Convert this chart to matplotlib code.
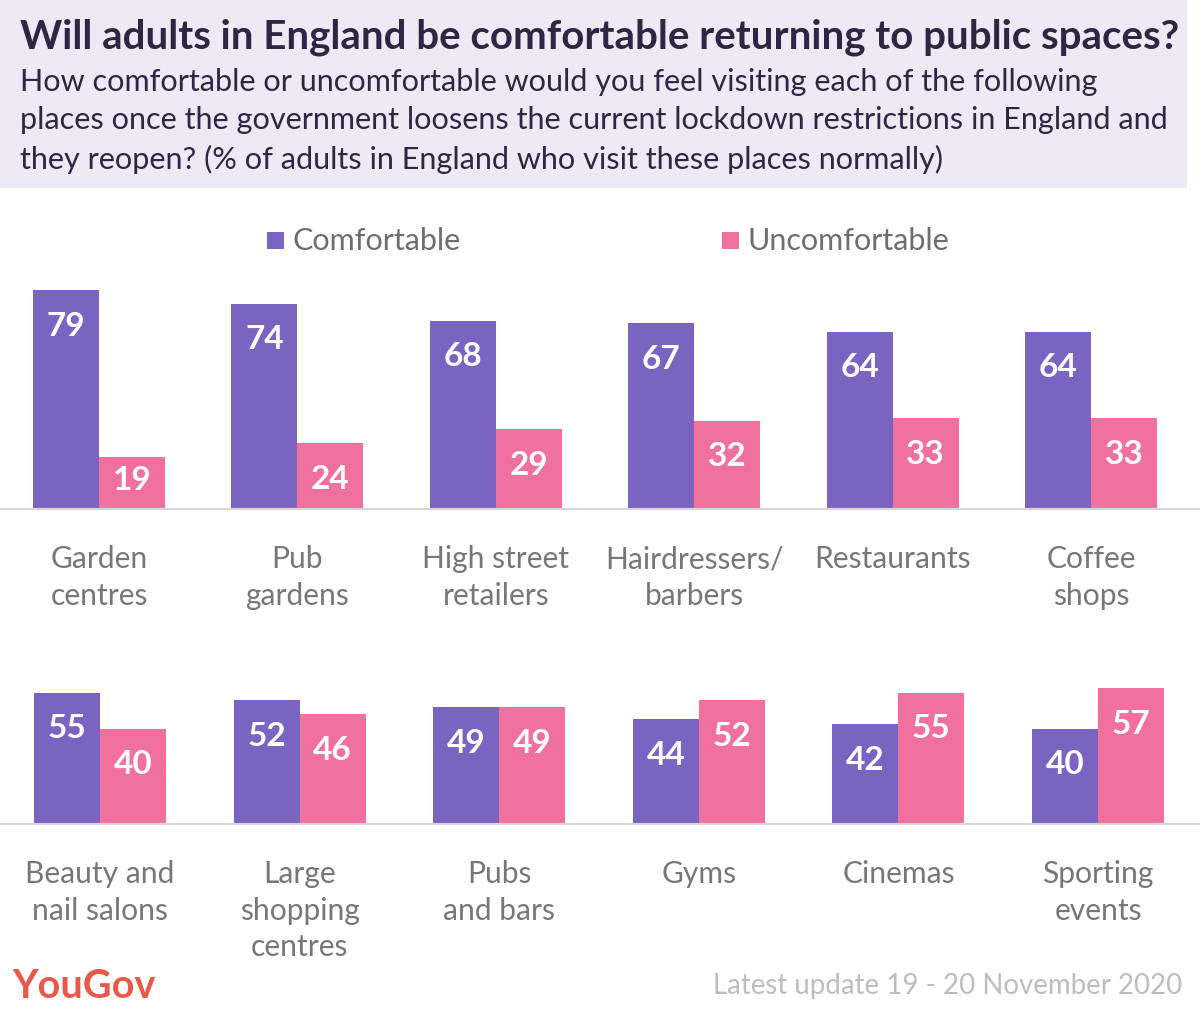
import matplotlib.pyplot as plt
from matplotlib.patches import Rectangle
import numpy as np

# data
top_places = ['Garden\ncentres', 'Pub\ngardens', 'High street\nretailers',
              'Hairdressers/\nbarbers', 'Restaurants', 'Coffee\nshops']
top_comfortable = [79, 74, 68, 67, 64, 64]
top_uncomfortable = [19, 24, 29, 32, 33, 33]

bottom_places = ['Beauty and\nnail salons', 'Large\nshopping\ncentres', 'Pubs\nand bars',
                 'Gyms', 'Cinemas', 'Sporting\nevents']
bottom_comfortable = [55, 52, 49, 44, 42, 40]
bottom_uncomfortable = [40, 46, 49, 52, 55, 57]

PURPLE = '#7B63C1'
PINK = '#F0719E'
FONT = 'Lato'

W, H = 1200, 1011
fig = plt.figure(figsize=(W / 100, H / 100), dpi=100)
fig.patch.set_facecolor('white')


def fx(px):
    return px / W


def fy(py):
    return 1 - py / H


# header box
fig.patches.append(Rectangle((0, fy(188)), fx(1187), 188 / H, transform=fig.transFigure,
                             facecolor='#EDEAF5', edgecolor='none', zorder=0))
fig.text(fx(20), fy(37), 'Will adults in England be comfortable returning to public spaces?',
         fontsize=29, fontweight='bold', color='#2D2744', family=FONT, va='center', ha='left')
subtitle = ('How comfortable or uncomfortable would you feel visiting each of the following\n'
            'places once the government loosens the current lockdown restrictions in England and\n'
            'they reopen? (% of adults in England who visit these places normally)')
fig.text(fx(20), fy(121), subtitle, fontsize=22.1, color='#2D2744', family=FONT,
         va='center', ha='left', linespacing=1.43)

# legend
fig.patches.append(Rectangle((fx(267), fy(249)), fx(17), 17 / H, transform=fig.transFigure,
                             facecolor=PURPLE, edgecolor='none'))
fig.text(fx(293), fy(241), 'Comfortable', fontsize=22, color='#6E6E6E', family=FONT,
         va='center', ha='left')
fig.patches.append(Rectangle((fx(722), fy(249)), fx(17), 17 / H, transform=fig.transFigure,
                             facecolor=PINK, edgecolor='none'))
fig.text(fx(748), fy(241), 'Uncomfortable', fontsize=22, color='#6E6E6E', family=FONT,
         va='center', ha='left')


def panel(top_px, base_px, ymax, comf, uncomf, labels, first_px, step_px):
    ax = fig.add_axes([0, fy(base_px), 1, (base_px - top_px) / H])
    x = np.arange(len(comf))
    bw = 66 / step_px
    ax.bar(x - bw / 2, comf, bw, color=PURPLE, zorder=2)
    ax.bar(x + bw / 2, uncomf, bw, color=PINK, zorder=2)
    ax.set_xlim(-first_px / step_px, (W - first_px) / step_px)
    ax.set_ylim(0, ymax)
    ax.axis('off')
    ax.axhline(0, color='#D6D6D6', lw=3, zorder=3)
    px_per_unit = (base_px - top_px) / ymax
    for vals, off in ((comf, -bw / 2), (uncomf, bw / 2)):
        for i, v in enumerate(vals):
            drop = min(36, v * px_per_unit - 29)
            ax.annotate(str(v), (i + off, v), xytext=(0, -drop), textcoords='offset pixels',
                        ha='center', va='center', color='white', fontsize=24,
                        fontweight='bold', family=FONT, zorder=4)
    for i, lab in enumerate(labels):
        ax.annotate(lab, (i, 0), xytext=(0, -35), textcoords='offset pixels',
                    ha='center', va='top', color='#777777', fontsize=21.6, family=FONT,
                    linespacing=1.37, annotation_clip=False)
    return ax


panel(290, 510, 79, top_comfortable, top_uncomfortable, top_places, 99, 198.4)
panel(688, 825, 57, bottom_comfortable, bottom_uncomfortable, bottom_places, 100, 199.6)

# footer
fig.text(fx(12), fy(986), 'YouGov', fontsize=28.5, fontweight='bold', color='#E8594A',
         family=FONT, va='center', ha='left')
fig.text(fx(1182), fy(986), 'Latest update 19 - 20 November 2020', fontsize=19.9,
         color='#BDBDBD', family=FONT, va='center', ha='right')

fig.savefig('out.png', dpi=100)
